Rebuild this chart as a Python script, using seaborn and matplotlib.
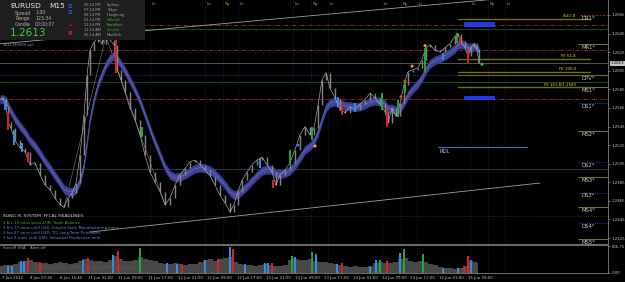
import numpy as np
import pandas as pd
import matplotlib
matplotlib.use("Agg")
import matplotlib.pyplot as plt
import seaborn as sns

# ---- price samples (time index = screen bar position) ----
t = [0, 3, 6, 8, 11, 15, 20, 25, 30, 35, 40, 45, 50, 55, 60, 64, 68, 72, 76, 80,
     84, 87, 90, 94, 98, 102, 106, 110, 114, 117, 121, 125, 130, 135, 140, 145, 150, 155, 160, 165,
     170, 175, 180, 185, 190, 195, 200, 205, 210, 215, 220, 225, 230, 234, 238, 242, 247, 252, 257, 262,
     267, 272, 276, 280, 285, 290, 295, 300, 305, 310, 314, 318, 322, 326, 330, 335, 340, 345, 350, 355,
     360, 365, 370, 375, 380, 385, 388, 392, 396, 400, 404, 408, 413, 418, 422, 426, 430, 435, 440, 445,
     450, 455, 458, 461, 465, 468, 471, 474, 477, 479]
close = [1.2574, 1.2576, 1.2567, 1.2550, 1.2543, 1.2530, 1.2522, 1.2518, 1.2504, 1.2506,
         1.2493, 1.2482, 1.2477, 1.2468, 1.2461, 1.2458, 1.2468, 1.2473, 1.2484, 1.2514,
         1.2557, 1.2600, 1.2627, 1.2636, 1.2640, 1.2634, 1.2642, 1.2638, 1.2633, 1.2606,
         1.2595, 1.2582, 1.2565, 1.2552, 1.2536, 1.2514, 1.2496, 1.2485, 1.2475, 1.2461,
         1.2468, 1.2482, 1.2493, 1.2500, 1.2507, 1.2509, 1.2504, 1.2498, 1.2492, 1.2482,
         1.2471, 1.2463, 1.2453, 1.2461, 1.2475, 1.2487, 1.2496, 1.2504, 1.2509, 1.2512,
         1.2504, 1.2496, 1.2482, 1.2493, 1.2498, 1.2506, 1.2520, 1.2536, 1.2545, 1.2536,
         1.2543, 1.2568, 1.2595, 1.2603, 1.2586, 1.2576, 1.2563, 1.2560, 1.2566, 1.2563,
         1.2569, 1.2574, 1.2581, 1.2576, 1.2569, 1.2561, 1.2549, 1.2565, 1.2556, 1.2570,
         1.2590, 1.2604, 1.2606, 1.2608, 1.2617, 1.2630, 1.2633, 1.2627, 1.2625, 1.2630,
         1.2634, 1.2642, 1.2645, 1.2636, 1.2630, 1.2621, 1.2630, 1.2634, 1.2628, 1.2613]
bid = 1.2613

# coloured (signal) candles
col_t = [5, 8, 14, 22, 28, 116, 142, 260, 273, 290, 312, 338, 342, 355, 382, 387, 398, 405, 425, 443, 457, 460, 468]
col_hi = [1.2574, 1.2560, 1.2541, 1.2527, 1.2518, 1.2638, 1.2545, 1.2511, 1.2487, 1.2520, 1.2545, 1.2577,
          1.2571, 1.2570, 1.2581, 1.2565, 1.2574, 1.2595, 1.2629, 1.2624, 1.2646, 1.2641, 1.2627]
col_lo = [1.2563, 1.2541, 1.2525, 1.2518, 1.2507, 1.2603, 1.2534, 1.2500, 1.2479, 1.2506, 1.2530, 1.2566,
          1.2557, 1.2561, 1.2563, 1.2545, 1.2555, 1.2581, 1.2604, 1.2617, 1.2635, 1.2633, 1.2613]
col_c = ["b", "r", "b", "b", "r", "r", "g", "b", "r", "g", "g", "b", "r", "b", "g", "r", "g", "g", "g", "b", "g", "r", "r"]

# signal dots
sig_t = [298, 315, 401, 405, 412, 425, 482]
sig_p = [1.2525, 1.2524, 1.2577, 1.2594, 1.2610, 1.2632, 1.2612]
sig_c = ["#3070ff", "#f0a030", "#e04040", "#e04040", "#f0a030", "#f0a030", "#20d020"]

# volume (SonicR VSA)
vol_t = list(range(0, 480, 5)) + [478]
vol = [175, 200, 200, 225, 275, 300, 325, 275, 250, 250,
       225, 250, 275, 250, 225, 250, 300, 350, 325, 300,
       300, 275, 325, 425, 350, 300, 300, 325, 400, 350,
       325, 300, 250, 225, 225, 250, 225, 200, 225, 225,
       275, 325, 350, 300, 350, 375, 400, 275, 225, 200,
       200, 175, 200, 225, 200, 175, 175, 200, 325, 350,
       325, 325, 350, 300, 275, 275, 250, 225, 200, 175,
       150, 175, 150, 150, 175, 250, 275, 250, 250, 275,
       350, 375, 300, 275, 300, 275, 225, 200, 150, 125,
       125, 100, 125, 175, 300, 275, 250]
vt = [8, 12, 21, 24, 28, 40, 83, 88, 113, 118, 140, 167, 177, 182, 205, 218, 230, 233, 245, 265,
      268, 272, 292, 295, 312, 316, 337, 342, 370, 376, 380, 387, 400, 404, 423, 443, 458, 464, 468, 471]
vv = [175, 175, 300, 300, 375, 275, 325, 375, 450, 550, 625, 250, 225, 225, 325, 350, 650, 600, 225, 250,
      250, 250, 425, 400, 525, 475, 225, 250, 150, 325, 325, 300, 500, 600, 475, 125, 125, 175, 425, 325]
vc = ["b", "b", "b", "b", "r", "r", "b", "r", "b", "r", "g", "b", "b", "r", "b", "r", "b", "r", "b", "b",
      "b", "r", "g", "b", "g", "b", "b", "r", "b", "b", "g", "r", "b", "g", "g", "b", "b", "r", "r", "b"]

# levels
red_lines = [1.2654, 1.2627, 1.2575]
green_lines = [1.2650, 1.2593]
lvl_names = ["DR1*", "MR1*", "DPV*", "MS1*", "DS1*", "MS2*", "DS2*", "MS3*", "DS3*", "MS4*", "DS4*", "MS5*"]
lvl_p = [1.2665, 1.2634, 1.2600, 1.2587, 1.2570, 1.2540, 1.2507, 1.2491, 1.2474, 1.2458, 1.2441, 1.2424]
fib_names = ["SL61.8", "FE 61.8", "FE 100.0", "FE 161.8/1.2580"]
fib_p = [1.2661, 1.2618, 1.2604, 1.2587]
zone_lo = [1.2652, 1.2573]
zone_hi = [1.2657, 1.2578]
rdl_p = 1.2523

yt = [1.2665, 1.2645, 1.2625, 1.2605, 1.2585, 1.2565, 1.2545, 1.2525, 1.2505, 1.2485, 1.2465, 1.2445, 1.2425]
xt = [2, 30, 60, 88, 118, 148, 178, 207, 237, 266, 295, 324, 353, 382, 410, 439, 468]
xl = ["7 Jun 2012", "8 Jun 07:45", "8 Jun 15:45", "11 Jun 01:00", "11 Jun 09:00", "11 Jun 17:00",
      "12 Jun 01:00", "12 Jun 09:00", "12 Jun 17:00", "13 Jun 01:00", "13 Jun 09:00", "13 Jun 17:00",
      "14 Jun 01:00", "14 Jun 09:00", "14 Jun 17:00", "15 Jun 01:00", "15 Jun 09:00"]
sess_t = [150, 205, 223, 238, 293, 311, 328, 382, 401, 417, 470, 488, 505]
sess_l = ["Lc", "Lo", "Ny", "Lc", "Lo", "Ny", "Lc", "Lo", "Ny", "Lc", "Lo", "Ny", "Lc"]

headlines = ["SONIC R. SYSTEM  FFCAL HEADLINES:",
             "1 hrs 14 mins since EUR: Trade Balance",
             "2 hrs 17 mins until USD: Empire State Manufacturing Index",
             "2 hrs 47 mins until USD: TIC Long-Term Purchases",
             "3 hrs 2 mins until USD: Industrial Production m/m"]
head_c = ["#d8d8d8", "#30c030", "#4a9ae8", "#4a9ae8", "#4a9ae8"]
times = ["08:14 PM", "07:14 PM", "06:14 PM", "01:14 PM", "12:14 PM", "11:14 AM", "06:14 AM"]
cities = ["Sydney", "Tokyo", "Hongkong", "Helsinki", "Frankfurt", "London", "NewYork"]
city_c = ["#a8a8a8", "#a8a8a8", "#a8a8a8", "#30b030", "#9aaa30", "#30b030", "#a8a8a8"]

cmap = {"b": "#2f8fe8", "g": "#22a83a", "r": "#e02020"}

sns.set_style("dark")
plt.rcParams["font.family"] = ["DejaVu Sans"]

W, H = 625, 282
fig = plt.figure(figsize=(6.25, 2.82), dpi=100, facecolor="black")
ax = fig.add_axes([0, 1 - 244 / H, 608 / W, 244 / H])
sub = fig.add_axes([0, 1 - 273 / H, 608 / W, 28 / H], sharex=ax)

for a in (ax, sub):
    a.set_facecolor("black")
    a.grid(False)
    for s in ("left", "top"):
        a.spines[s].set_visible(False)
    for s in ("right", "bottom"):
        a.spines[s].set_color("#808080")
        a.spines[s].set_linewidth(0.6)
    a.yaxis.tick_right()
    a.tick_params(colors="#c8c8c8", labelsize=2.8, length=1.5, width=0.4, pad=1)
sub.spines["top"].set_visible(True)
sub.spines["top"].set_color("#808080")
sub.spines["top"].set_linewidth(0.6)

ax.set_xlim(0, 608)
ax.set_ylim(1.24186, 1.26811)

# session lines
for st, sl in zip(sess_t, sess_l):
    ax.axvline(st, color="#4a4a4a", lw=0.4, ls=(0, (1, 2)))
    sub.axvline(st, color="#4a4a4a", lw=0.4, ls=(0, (1, 2)))
    ax.text(st + 1.5, 0.984, sl, transform=ax.get_xaxis_transform(), fontsize=3, color="#b4a832", va="center")

# full width lines
for p in red_lines:
    ax.axhline(p, color="#b02a1a", lw=0.6, ls=(0, (5, 2, 1, 2)))
for p in green_lines:
    ax.axhline(p, color="#1d5a1d", lw=0.6)
ax.axhline(1.2449, color="#1f6a1f", lw=0.5, ls=(0, (1, 2)))
ax.axhline(1.2499, color="#34405a", lw=0.6)
ax.axhline(1.2600, color="#2a48c0", lw=0.6, ls=(0, (1, 1.5)))
ax.axhline(bid, color="#7a7a7a", lw=0.5)

# trend lines
sns.lineplot(x=[0, 608], y=[1.2634, 1.2693], ax=ax, color="#a0a0a0", lw=0.6)
sns.lineplot(x=[90, 540], y=[1.24315, 1.24842], ax=ax, color="#a0a0a0", lw=0.6)
sns.lineplot(x=[64, 106, 165], y=[1.2458, 1.2642, 1.2461], ax=ax, color="#7a7a7a", lw=0.4)

# moving-average band
ema = pd.Series(close).ewm(span=7, adjust=False).mean().to_numpy()
ax.fill_between(t, ema - 0.00048, ema + 0.00048, color="#363a86", lw=0, zorder=3)
ax.fill_between(t, ema - 0.00030, ema + 0.00030, color="#41459a", lw=0, zorder=3)
sns.lineplot(x=t, y=ema, ax=ax, color="#7c82c8", lw=0.3, zorder=4)

# price
c = np.array(close)
ax.vlines(t[1:], np.minimum(c[:-1], c[1:]), np.maximum(c[:-1], c[1:]), color="#858585", lw=1.0, zorder=5)
sns.lineplot(x=t, y=close, ax=ax, color="#b4b4b4", lw=0.45, zorder=5)
ax.vlines(col_t, col_lo, col_hi, colors=[cmap[k] for k in col_c], lw=1.4, zorder=6)
ax.scatter(sig_t, sig_p, s=5, c=sig_c, zorder=7, lw=0)

# right-hand levels
for name, p in zip(lvl_names, lvl_p):
    if name.startswith("DR"):
        ax.plot([580, 608], [p, p], color="#c02020", lw=0.6, ls=(0, (3, 1.5)))
    elif name.startswith("M"):
        ax.plot([578, 608], [p, p], color="#7a7a20", lw=0.7)
    else:
        ax.plot([578, 608], [p, p], color="#3050d0", lw=0.6, ls=(0, (1, 1.5)))
    ax.text(0.957, p - 0.0001, name, transform=ax.get_yaxis_transform(), fontsize=3.8,
            color="#c8c8c8", va="top", ha="left")
for name, p in zip(fib_names, fib_p):
    ax.plot([458, 590], [p, p], color="#707018", lw=1.0)
    ax.text(576, p + 0.00005, name, fontsize=2.8, color="#e0d820", va="bottom", ha="right")
ax.plot([458, 608], [1.2600, 1.2600], color="#707018", lw=0.8)
for lo, hi in zip(zone_lo, zone_hi):
    ax.fill_between([464, 495], lo, hi, color="#1438ff", lw=0)
ax.plot([438, 527], [rdl_p, rdl_p], color="#3d78c0", lw=0.8)
ax.text(440, rdl_p - 0.0002, "RDL", fontsize=3.8, color="#c0c0c0", va="top")

ax.set_yticks(yt)
ax.set_yticklabels([f"{v:.4f}" for v in yt])
ax.tick_params(axis="x", labelbottom=False, length=0)
ax.annotate(f"{bid:.4f}", xy=(1.004, bid), xycoords=ax.get_yaxis_transform(), fontsize=2.8,
            color="black", va="center", ha="left",
            bbox=dict(boxstyle="square,pad=0.2", fc="#c4c4c4", ec="none"))
ax.text(3, 1.26325, "#521395509.vall", fontsize=2.6, color="#a0a0a0", va="center")

# volume panel
sub.fill_between(vol_t, vol, color="#484848", lw=0, step="mid")
sub.bar(vt, vv, width=2.4, color=[cmap[k] for k in vc], lw=0)
sub.set_ylim(0, 700)
sub.set_yticks([0, 666.75])
sub.set_yticklabels(["0.00", "666.75"])
sub.set_xticks(xt)
sub.set_xticklabels(xl)
for lab in sub.get_xticklabels():
    lab.set_ha("left")
sub.text(0.005, 0.88, "SonicR VSA", transform=sub.transAxes, fontsize=2.8, color="#a8a8a8", va="center")
sub.text(0.05, 0.88, "Alert off", transform=sub.transAxes, fontsize=2.8, color="#a8a8a8", va="center")
sub.text(0.055, 0.2, "\u00a9 2001-2012, MetaQuotes Software Corp.", transform=sub.transAxes,
         fontsize=3.6, color="#5a5a5a", va="center")

# headlines
for i, (s, cc) in enumerate(zip(headlines, head_c)):
    y = [216, 223, 228, 233, 238][i]
    fig.text(3 / W, 1 - y / H, s, fontsize=2.8 if i else 3.2, color=cc, va="center")

# info panel
inf = fig.add_axes([0, 1 - 40 / H, 145 / W, 40 / H])
inf.set_facecolor("#1e1e1e")
inf.set_xlim(0, 145)
inf.set_ylim(40, 0)
inf.set_xticks([])
inf.set_yticks([])
for s in inf.spines.values():
    s.set_visible(False)
inf.text(10, 6, "EURUSD", fontsize=5.3, color="#e6e6e6", va="center")
inf.text(49, 6, "M15", fontsize=5.3, color="#e6e6e6", va="center")
for y, k, v in zip([13, 18.5, 24], ["Spread", "Range", "Candle"], ["1.00", "123.34", "00:00:07"]):
    inf.text(15, y, k, fontsize=3.3, color="#b4b4b4", va="center")
    inf.text(35, y, v, fontsize=3.3, color="#b4b4b4", va="center")
inf.text(10, 32.5, "1.2613", fontsize=7.5, color="#3cd03c", va="center")
inf.text(67, 6, "S", fontsize=4.5, color="#2a60e0", va="center", fontweight="bold")
inf.text(67, 12, "S", fontsize=4.5, color="#2a60e0", va="center", fontweight="bold")
inf.text(67, 27, "^", fontsize=4.5, color="#e02020", va="center", fontweight="bold")
inf.text(67, 33.5, "R", fontsize=4.5, color="#e02020", va="center", fontweight="bold")
for i, (tm, cy, cc) in enumerate(zip(times, cities, city_c)):
    y = 5 + 5 * i
    inf.text(84, y, tm, fontsize=2.5, color="#a8a8a8", va="center")
    inf.text(107, y, cy, fontsize=2.5, color=cc, va="center")

fig.savefig("out.png", dpi=100, facecolor="black")
